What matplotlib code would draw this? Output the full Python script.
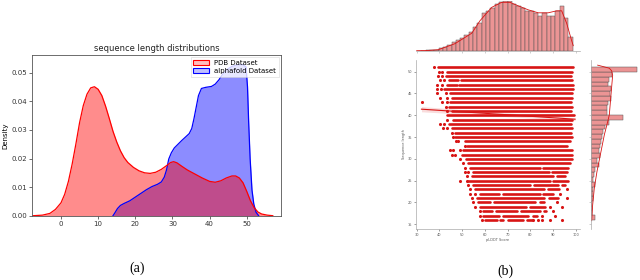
import numpy as np
import matplotlib
matplotlib.use("Agg")
import matplotlib.pyplot as plt

# ---- (a) KDE curves ----
pdb_x = [-7.5, -5, -3, -1.5, 0, 1, 2, 3, 4, 5, 6, 7, 8, 9, 10, 11, 12, 13, 14, 15, 16, 17,
         18, 19.5, 21, 22.5, 24, 25.5, 27, 28.5, 29.5, 30.3, 31.2, 32.5, 34, 36, 38, 40,
         41.5, 43, 44.5, 46, 47, 48, 49, 50, 51, 52, 53, 54, 55.5, 57]
pdb_y = [0.0, 0.0002, 0.0008, 0.0022, 0.0045, 0.0075, 0.012, 0.018, 0.025, 0.0325, 0.0385,
         0.0425, 0.0447, 0.0451, 0.0442, 0.042, 0.0383, 0.034, 0.0295, 0.0258, 0.0227,
         0.0203, 0.0186, 0.0169, 0.0157, 0.015, 0.0148, 0.0152, 0.0162, 0.0176, 0.0186,
         0.0189, 0.0185, 0.0173, 0.016, 0.0146, 0.0132, 0.012, 0.0117, 0.0122, 0.0132,
         0.0139, 0.0139, 0.0132, 0.0115, 0.0085, 0.0052, 0.0028, 0.0013, 0.0006, 0.0002, 0.0]
af_x = [14.0, 14.5, 15.2, 16, 17, 18.5, 20, 21.5, 23, 24.5, 26, 27, 27.8, 28.4, 29, 29.7,
        30.5, 31.5, 32.5, 33.5, 34.5, 35.2, 35.8, 36.4, 37, 37.8, 39, 40.5, 41.5, 42.5,
        43.5, 44.5, 46, 47.5, 49, 49.8, 50.2, 50.5, 50.9, 51.4, 51.9, 52.5, 53.2]
af_y = [0.0, 0.001, 0.0025, 0.0036, 0.0043, 0.0052, 0.0065, 0.0078, 0.0091, 0.0102, 0.011,
        0.0118, 0.0135, 0.016, 0.0198, 0.022, 0.0237, 0.025, 0.0263, 0.0275, 0.0287, 0.0305,
        0.034, 0.038, 0.042, 0.0445, 0.0449, 0.0452, 0.046, 0.0475, 0.0495, 0.051, 0.0522,
        0.0528, 0.0528, 0.052, 0.045, 0.033, 0.02, 0.009, 0.004, 0.0012, 0.0]

# ---- (b) scatter rows: sequence length, dense runs and single points ----
row_len = [51, 50, 49, 48, 47, 46, 45, 44, 43, 42, 41, 40, 39, 38, 37, 36, 35, 34,
           33, 32, 31, 30, 29, 28, 27, 26, 25, 24, 23, 22, 21, 20, 19, 18, 17, 16]
row_runs = [
    [(39.4, 98.5)], [(43.2, 98.3)], [(42.7, 98.0)], [(44.0, 48.0), (49.5, 98.3)],
    [(43.2, 47.5), (48.8, 98.5)], [(42.2, 98.5)], [(44.6, 98.4)], [(45.4, 98.2)],
    [(44.6, 98.0)], [(44.2, 98.2)], [(45.4, 98.0)], [(43.2, 99.0)], [(46.1, 98.3)],
    [(44.0, 98.0)], [(45.4, 98.2)], [(46.8, 98.0)], [(46.8, 98.3)], [(51.2, 97.4)],
    [(52.2, 96.2)], [(50.5, 98.1)], [(49.8, 98.1)], [(51.6, 98.1)], [(52.7, 97.4)],
    [(53.4, 84.0), (85.5, 96.7)], [(54.9, 88.0), (89.5, 95.9)],
    [(54.2, 90.0), (91.5, 95.2)], [(52.7, 88.5), (90.0, 96.7)],
    [(54.9, 80.0), (81.5, 92.0), (94.0, 95.2)], [(55.6, 86.0), (87.5, 92.5)],
    [(57.8, 66.0), (68.0, 84.0), (85.5, 90.0)], [(56.4, 86.0), (88.0, 92.0)],
    [(57.1, 62.0), (64.0, 82.0), (84.0, 86.0)], [(57.8, 78.0), (80.0, 86.5)],
    [(59.3, 63.0), (65.0, 74.0), (76.0, 84.0), (86.0, 87.0)],
    [(59.3, 66.0), (68.0, 79.0), (81.0, 83.0)],
    [(60.0, 65.1), (66.6, 68.1), (70.3, 76.8), (78.3, 80.5)],
]
row_dots = [
    [37.7], [39.6, 41.3], [39.2, 41.0], [40.3, 42.0], [39.0, 41.3], [39.0, 40.5],
    [39.0, 42.7], [40.3, 43.2], [32.5, 41.3, 43.2], [42.7], [43.2], [], [43.2],
    [40.3, 42.0], [41.5, 43.2], [45.4], [46.1], [47.1, 48.0], [51.2], [44.6, 46.1, 49.0],
    [45.4, 46.8], [49.0], [50.5], [51.2], [51.2, 52.7], [52.0], [49.0, 52.0], [52.7],
    [53.4, 95.9], [53.4, 55.6, 93.0], [54.2, 95.9], [54.9, 91.5], [55.6, 88.6, 93.7],
    [57.8, 90.1], [57.8, 84.9, 90.8], [58.6, 81.2, 83.4, 84.9, 88.6, 93.7],
]
reg_x = [32.1, 99.6]
reg_y = [41.4, 39.1]

# top marginal: pLDDT histogram (relative heights) and kde
plddt_counts = [0.0, 0.005, 0.008, 0.02, 0.05, 0.08, 0.12, 0.17, 0.21, 0.25, 0.31, 0.37,
                0.47, 0.56, 0.75, 0.79, 0.85, 0.94, 0.97, 0.99, 0.99, 0.94, 0.89, 0.86,
                0.79, 0.80, 0.75, 0.70, 0.75, 0.70, 0.70, 0.79, 0.89, 0.65, 0.28]
plddt_edges = (32.0, 98.5)
plddt_kde_x = [30, 35, 39.5, 46.8, 54.2, 57.8, 63.0, 67.3, 71.0, 74.6, 79.0, 83.4, 87.8,
               91.5, 93.7, 95.9, 98.1, 98.8]
plddt_kde_y = [0.0, 0.005, 0.02, 0.14, 0.35, 0.6, 0.87, 0.97, 0.97, 0.90, 0.82, 0.76,
               0.76, 0.80, 0.80, 0.55, 0.20, 0.10]

# right marginal: sequence length histogram (bottom to top) and kde
len_counts = [12, 2, 2, 3, 7, 5, 7, 12, 7, 9, 12, 25, 17, 27, 25, 27, 30, 32, 35, 42,
              55, 97, 47, 49, 52, 60, 57, 60, 52, 54, 64, 137]
len_edges = (16.0, 51.0)
len_kde_y = [15.8, 19.4, 23.3, 27.1, 30.9, 35.5, 38.5, 40.1, 44.7, 49.2, 50.2, 50.8, 51.5]
len_kde_x = [2, 5, 10, 18, 28, 40, 50, 55, 60, 65, 62, 55, 20]

fig = plt.figure(figsize=(6.4, 2.8), dpi=100)

# ---------------- panel (a) ----------------
ax = fig.add_axes([0.05, 0.2296, 0.389, 0.574])
ax.fill_between(af_x, af_y, color='blue', alpha=0.45, lw=0)
ax.plot(af_x, af_y, color='blue', lw=0.9)
ax.fill_between(pdb_x, pdb_y, color='red', alpha=0.45, lw=0)
ax.plot(pdb_x, pdb_y, color='red', lw=0.9)
ax.set_xlim(-7.8, 59.2)
ax.set_ylim(0, 0.0562)
ax.set_xticks([0, 10, 20, 30, 40, 50])
ax.set_yticks([0, 0.01, 0.02, 0.03, 0.04, 0.05])
ax.set_yticklabels(['0.00', '0.01', '0.02', '0.03', '0.04', '0.05'])
ax.tick_params(labelsize=5, length=2, width=0.5, pad=1.5, colors='#333333')
for s in ax.spines.values():
    s.set_linewidth(0.6)
    s.set_color('#555555')
ax.set_ylabel('Density', fontsize=5, labelpad=2)
ax.set_title('sequence length distributions', fontsize=6, pad=3, color='#222222')
h1 = plt.Rectangle((0, 0), 1, 1, facecolor=(1, 0, 0, 0.25), edgecolor='red', lw=0.8)
h2 = plt.Rectangle((0, 0), 1, 1, facecolor=(0, 0, 1, 0.25), edgecolor='blue', lw=0.8)
leg = ax.legend([h1, h2], ['PDB Dataset', 'alphafold Dataset'], loc='upper right',
                fontsize=5, framealpha=0.8, borderpad=0.4, handlelength=2.2,
                borderaxespad=0.3, labelspacing=0.3, fancybox=False)
leg.get_frame().set_linewidth(0.4)

# ---------------- panel (b) ----------------
red = '#d81414'
axm = fig.add_axes([0.6495, 0.182, 0.2567, 0.604])
for y, runs, dots in zip(row_len, row_runs, row_dots):
    xs0 = [r[0] for r in runs]
    xs1 = [r[1] for r in runs]
    axm.hlines([y] * len(runs), xs0, xs1, colors=red, lw=1.9, capstyle='round')
    if dots:
        axm.scatter(dots, [y] * len(dots), s=5, color=red, lw=0)
axm.fill_between(reg_x, [reg_y[0] - 0.6, reg_y[1] - 0.3], [reg_y[0] + 0.6, reg_y[1] + 0.3],
                 color=red, alpha=0.15, lw=0)
axm.plot(reg_x, reg_y, color=red, lw=0.8)
axm.set_xlim(29.56, 101.75)
axm.set_ylim(13.9, 52.7)
axm.set_xticks(range(30, 101, 10))
axm.set_yticks(range(15, 51, 5))
axm.tick_params(labelsize=2.5, length=1.5, width=0.4, pad=1, colors='#555555')
for k in ['top', 'right']:
    axm.spines[k].set_visible(False)
for k in ['left', 'bottom']:
    axm.spines[k].set_linewidth(0.5)
    axm.spines[k].set_color('#aaaaaa')
axm.set_xlabel('pLDDT Score', fontsize=2.5, labelpad=1, color='#555555')
axm.set_ylabel('Sequence length', fontsize=2.5, labelpad=1, color='#555555')

# top marginal
axt = fig.add_axes([0.6495, 0.819, 0.2567, 0.178])
edges = np.linspace(plddt_edges[0], plddt_edges[1], len(plddt_counts) + 1)
axt.bar(edges[:-1], plddt_counts, width=np.diff(edges), align='edge',
        color='#ec9494', edgecolor='#555555', lw=0.35)
axt.plot(plddt_kde_x, plddt_kde_y, color=red, lw=0.6)
axt.set_xlim(29.56, 101.75)
axt.set_ylim(0, 1.0)
axt.set_xticks(range(30, 101, 10))
axt.set_xticklabels([])
axt.set_yticks([])
axt.tick_params(length=1.5, width=0.4, colors='#aaaaaa')
for k in ['top', 'right', 'left']:
    axt.spines[k].set_visible(False)
axt.spines['bottom'].set_linewidth(0.5)
axt.spines['bottom'].set_color('#aaaaaa')

# right marginal
axr = fig.add_axes([0.9234, 0.182, 0.0766, 0.604])
ledges = np.linspace(len_edges[0], len_edges[1], len(len_counts) + 1)
axr.barh(ledges[:-1], len_counts, height=np.diff(ledges), align='edge',
         color='#ec9494', edgecolor='#555555', lw=0.35)
axr.plot(len_kde_x, len_kde_y, color=red, lw=0.6)
axr.set_ylim(13.9, 52.7)
axr.set_xlim(0, 147)
axr.set_yticks(range(15, 51, 5))
axr.set_yticklabels([])
axr.set_xticks([])
axr.tick_params(length=1.5, width=0.4, colors='#aaaaaa')
for k in ['top', 'right', 'bottom']:
    axr.spines[k].set_visible(False)
axr.spines['left'].set_linewidth(0.5)
axr.spines['left'].set_color('#aaaaaa')

fig.text(137 / 640, 1 - 268 / 280, '(a)', family='Liberation Serif', fontsize=10,
         ha='center', va='center')
fig.text(505 / 640, 1 - 271 / 280, '(b)', family='Liberation Serif', fontsize=10,
         ha='center', va='center')

fig.savefig('out.png', dpi=100, facecolor='white')
